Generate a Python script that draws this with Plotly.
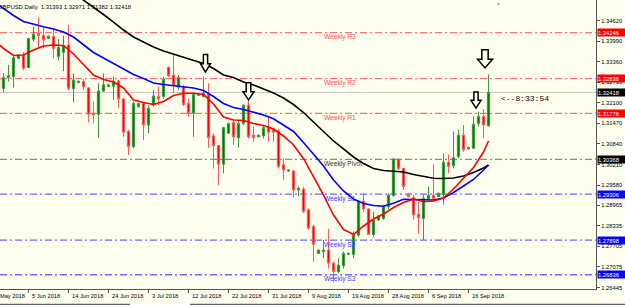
import plotly.graph_objects as go

# ---------------- data ----------------
bar_index = list(range(-1, 98))   # bar number; -1 = 29 May 2018, 97 = 20 Sep 2018

opens = [1.3317, 1.3254, 1.3287, 1.3290, 1.3346, 1.3356, 1.3318, 1.3405, 1.3423, 1.3416,
         1.3407, 1.3413, 1.3352, 1.3365, 1.3387, 1.3254, 1.3272, 1.3275, 1.3256, 1.3178,
         1.3175, 1.3246, 1.3260, 1.3261, 1.3277, 1.3222, 1.3122, 1.3076, 1.3198, 1.3208,
         1.3142, 1.3203, 1.3229, 1.3229, 1.3318, 1.3295, 1.3258, 1.3259, 1.3208, 1.3178,
         1.3233, 1.3229, 1.3236, 1.3109, 1.3079, 1.3022, 1.3117, 1.3150, 1.3103, 1.3147,
         1.3203, 1.3111, 1.3106, 1.3109, 1.3137, 1.3130, 1.3124, 1.3020, 1.3001, 1.3001,
         1.2943, 1.2946, 1.2882, 1.2831, 1.2749, 1.2754, 1.2759, 1.2719, 1.2693, 1.2711,
         1.2746, 1.2746, 1.2805, 1.2909, 1.2885, 1.2807, 1.2851, 1.2856, 1.2892, 1.2926,
         1.3038, 1.3009, 1.2930, 1.2920, 1.2869, 1.2856, 1.2916, 1.2927, 1.2923, 1.2930,
         1.3028, 1.3017, 1.3045, 1.3111, 1.3069, 1.3071, 1.3147, 1.3168, 1.31393]
highs = [1.3322, 1.3300, 1.3326, 1.3356, 1.3358, 1.3365, 1.3409, 1.3443, 1.3471, 1.3443,
         1.3416, 1.3433, 1.3405, 1.3416, 1.3448, 1.3300, 1.3278, 1.3282, 1.3258, 1.3214,
         1.3270, 1.3300, 1.3268, 1.3290, 1.3280, 1.3224, 1.3127, 1.3213, 1.3210, 1.3213,
         1.3203, 1.3249, 1.3259, 1.3290, 1.3321, 1.3358, 1.3295, 1.3265, 1.3224, 1.3239,
         1.3238, 1.3290, 1.3270, 1.3116, 1.3081, 1.3137, 1.3149, 1.3157, 1.3157, 1.3205,
         1.3239, 1.3137, 1.3113, 1.3142, 1.3168, 1.3134, 1.3130, 1.3040, 1.3006, 1.3004,
         1.2953, 1.2953, 1.2887, 1.2836, 1.2761, 1.2790, 1.2824, 1.2724, 1.2734, 1.2754,
         1.2751, 1.2816, 1.2912, 1.2933, 1.2887, 1.2877, 1.2866, 1.2897, 1.2933, 1.3040,
         1.3040, 1.3011, 1.2933, 1.2928, 1.2907, 1.2928, 1.2953, 1.3022, 1.2935, 1.3055,
         1.3052, 1.3122, 1.3127, 1.3142, 1.3075, 1.3168, 1.3183, 1.3191, 1.32971]
lows = [1.3206, 1.3242, 1.3275, 1.3256, 1.3345, 1.3310, 1.3316, 1.3397, 1.3377, 1.3377,
        1.3405, 1.3346, 1.3340, 1.3307, 1.3249, 1.3211, 1.3270, 1.3250, 1.3150, 1.3147,
        1.3103, 1.3244, 1.3258, 1.3219, 1.3193, 1.3106, 1.3050, 1.3071, 1.3196, 1.3096,
        1.3117, 1.3198, 1.3203, 1.3222, 1.3290, 1.3240, 1.3250, 1.3200, 1.3168, 1.3106,
        1.3231, 1.3226, 1.3071, 1.3009, 1.2958, 1.2994, 1.3115, 1.3081, 1.3073, 1.3142,
        1.3101, 1.3091, 1.3104, 1.3101, 1.3091, 1.3091, 1.3009, 1.2974, 1.2999, 1.2920,
        1.2923, 1.2872, 1.2821, 1.2724, 1.2747, 1.2734, 1.2703, 1.2662, 1.2688, 1.2703,
        1.2744, 1.2734, 1.2800, 1.2877, 1.2805, 1.2800, 1.2849, 1.2851, 1.2885, 1.2922,
        1.3004, 1.2943, 1.2920, 1.2851, 1.2810, 1.2790, 1.2912, 1.2915, 1.2921, 1.2899,
        1.2994, 1.3009, 1.3040, 1.3060, 1.3067, 1.3069, 1.3137, 1.3101, 1.31382]
closes = [1.3249, 1.3287, 1.3293, 1.3348, 1.3356, 1.3316, 1.3407, 1.3420, 1.3416, 1.3402,
          1.3414, 1.3377, 1.3379, 1.3385, 1.3254, 1.3280, 1.3276, 1.3259, 1.3175, 1.3173,
          1.3246, 1.3265, 1.3265, 1.3277, 1.3222, 1.3120, 1.3076, 1.3208, 1.3208, 1.3142,
          1.3193, 1.3231, 1.3222, 1.3283, 1.3293, 1.3262, 1.3288, 1.3205, 1.3178, 1.3236,
          1.3236, 1.3239, 1.3103, 1.3079, 1.3022, 1.3134, 1.3147, 1.3106, 1.3147, 1.3203,
          1.3106, 1.3103, 1.3111, 1.3134, 1.3120, 1.3120, 1.3015, 1.3004, 1.3004, 1.2943,
          1.2948, 1.2877, 1.2826, 1.2777, 1.2759, 1.2759, 1.2719, 1.2693, 1.2713, 1.2749,
          1.2749, 1.2805, 1.2909, 1.2885, 1.2807, 1.2851, 1.2864, 1.2892, 1.2928, 1.3038,
          1.3009, 1.2953, 1.2923, 1.2867, 1.2858, 1.2918, 1.2927, 1.2917, 1.2933, 1.3028,
          1.3015, 1.3042, 1.3111, 1.3066, 1.3073, 1.3144, 1.3168, 1.3142, 1.32418]

ma_black_idx = [14, 16, 18, 20, 22, 24, 26, 28, 30, 32, 34, 36, 38, 40, 42, 44, 46, 48, 50, 52,
                54, 56, 58, 60, 62, 64, 66, 68, 70, 72, 74, 76, 78, 80, 82, 84, 86, 88, 90, 92,
                94, 96, 97]
ma_black = [1.35462, 1.35248, 1.35034, 1.34804, 1.34574, 1.34329, 1.34115, 1.33962, 1.33809,
            1.33687, 1.33595, 1.33503, 1.33411, 1.33304, 1.33151, 1.32952, 1.32875, 1.32737,
            1.32645, 1.32523, 1.32400, 1.32247, 1.32048, 1.31803, 1.31513, 1.31206, 1.30931,
            1.30686, 1.30441, 1.30242, 1.30089, 1.30028, 1.29997, 1.29982, 1.29905, 1.29844,
            1.29789, 1.29783, 1.29798, 1.29859, 1.29966, 1.30104, 1.30196]

ma_fast_idx = [-1, 0, 2, 4, 6, 8, 10, 12, 14, 16, 18, 20, 22, 24, 26, 28, 30, 32, 34, 36, 38,
               40, 42, 44, 46, 48, 50, 52, 54, 56, 58, 60, 62, 64, 66, 68, 70, 72, 74, 76, 78,
               80, 82, 84, 86, 88, 90, 92, 94, 96, 97]
ma_blue = [1.35095, 1.34988, 1.34773, 1.34590, 1.34498, 1.34430, 1.34360, 1.34268, 1.34115,
           1.33870, 1.33641, 1.33472, 1.33304, 1.33151, 1.32967, 1.32845, 1.32707, 1.32661,
           1.32630, 1.32600, 1.32554, 1.32477, 1.32293, 1.32079, 1.31957, 1.31895, 1.31819,
           1.31727, 1.31611, 1.31412, 1.31222, 1.30885, 1.30542, 1.30165, 1.29737, 1.29400,
           1.29155, 1.29017, 1.28956, 1.28932, 1.29023, 1.29149, 1.29140, 1.29124, 1.29124,
           1.29186, 1.29354, 1.29553, 1.29752, 1.30043, 1.30196]
ma_red = [1.33901, 1.33763, 1.33549, 1.33564, 1.33717, 1.33840, 1.33870, 1.33855, 1.33595,
          1.33288, 1.32952, 1.32814, 1.32737, 1.32554, 1.32186, 1.32110, 1.32048, 1.32140,
          1.32324, 1.32391, 1.32391, 1.32355, 1.32064, 1.31666, 1.31574, 1.31559, 1.31467,
          1.31406, 1.31298, 1.31084, 1.30808, 1.30395, 1.29859, 1.29277, 1.28665, 1.28221,
          1.28068, 1.28328, 1.28543, 1.28695, 1.28894, 1.29048, 1.29155, 1.29072, 1.29094,
          1.29186, 1.29461, 1.29783, 1.30120, 1.30594, 1.30931]

# weekly pivot levels
level_values = [1.34246, 1.32838, 1.31776, 1.30368, 1.29306, 1.27898, 1.26836]
level_names = ["Weekly R3", "Weekly R2", "Weekly R1", "Weekly Pivot", "Weekly S1", "Weekly S2", "Weekly S3"]
current_price = 1.32418
timer_text = "<--8:33:54"
header_text = "GBPUSD,Daily  1.31393 1.32971 1.31382 1.32418"

# axis ticks
y_tick_vals = [1.34620, 1.33990, 1.33360, 1.32730, 1.32100, 1.31470, 1.30840, 1.30210,
               1.29580, 1.28965, 1.28335, 1.27705, 1.27075, 1.26445]
date_tick_idx = [-3, 5, 13, 21, 29, 37, 45, 53, 61, 69, 77, 85, 93]
date_tick_text = ["27 May 2018", "5 Jun 2018", "14 Jun 2018", "24 Jun 2018", "3 Jul 2018",
                  "12 Jul 2018", "22 Jul 2018", "31 Jul 2018", "9 Aug 2018", "19 Aug 2018",
                  "28 Aug 2018", "6 Sep 2018", "16 Sep 2018"]

# drawn arrow objects: (bar, price of tip)
arrow_bars = [40.4, 49.0, 94.5, 96.3]
arrow_tips = [1.3304, 1.3219, 1.3194, 1.3317]

# ---------------- styling ----------------
BG = "#FFFFF0"
FONT = "Liberation Sans, Arial, sans-serif"
X_MIN, X_MAX = -0.7, 118.5
PX_PER_BAR = 596 / (X_MAX - X_MIN)
level_line_colors = ["#FF7070"] * 3 + ["#8C8C8C"] + ["#6A6AFF"] * 3
level_text_colors = ["#FF5050"] * 3 + ["#333333"] + ["#3C3CFF"] * 3
arrow_sizes = [(10, 17.5), (11, 17), (10, 16), (15, 18)]

fig = go.Figure()

fig.add_trace(go.Candlestick(
    x=bar_index, open=opens, high=highs, low=lows, close=closes,
    increasing=dict(line=dict(color="#3C9A3C", width=1), fillcolor="#007A00"),
    decreasing=dict(line=dict(color="#FF5A5A", width=1), fillcolor="#FF0000"),
    whiskerwidth=0, hoverinfo="skip", showlegend=False))

fig.add_trace(go.Scatter(x=ma_black_idx, y=ma_black, mode="lines",
                         line=dict(color="#000000", width=1.6), hoverinfo="skip", showlegend=False))
fig.add_trace(go.Scatter(x=ma_fast_idx, y=ma_blue, mode="lines",
                         line=dict(color="#0000FF", width=1.6), hoverinfo="skip", showlegend=False))
fig.add_trace(go.Scatter(x=ma_fast_idx, y=ma_red, mode="lines",
                         line=dict(color="#FF0000", width=1.6), hoverinfo="skip", showlegend=False))

shapes = []
annotations = []

# current price line
shapes.append(dict(type="line", xref="paper", x0=0, x1=1, yref="y", y0=current_price, y1=current_price,
                   line=dict(color="#C4C4C4", width=1), layer="below"))

for val, name, lc, tc in zip(level_values, level_names, level_line_colors, level_text_colors):
    shapes.append(dict(type="line", xref="paper", x0=0, x1=1, yref="y", y0=val, y1=val,
                       line=dict(color=lc, width=1.3, dash="7px,3px,2px,3px"), layer="below"))
    annotations.append(dict(xref="paper", x=322.5 / 596, xanchor="left", yref="y", y=val,
                            yanchor="middle", yshift=-4.5, text=name, showarrow=False,
                            font=dict(family=FONT, size=6.6, color=tc), borderpad=0))

# price boxes on the right axis
box_values = [level_values[0], level_values[1], current_price, level_values[2], level_values[3],
              level_values[4], level_values[5], level_values[6]]
box_colors = ["#FF0000", "#FF0000", "#000000", "#FF0000", "#000000", "#0000FF", "#0000FF", "#0000FF"]
for v, c in zip(box_values, box_colors):
    annotations.append(dict(xref="paper", x=1, xanchor="left", xshift=1, yref="y", y=v,
                            yanchor="middle", text=f"{v:.5f}", showarrow=False, align="left",
                            width=28, height=7, bgcolor=c, borderpad=0,
                            font=dict(family=FONT, size=5.8, color="#FFFFFF")))

# date labels (a label whose tick lies left of the visible range is pinned to the edge and shifted)
for idx, txt in zip(date_tick_idx, date_tick_text):
    anchor = max(idx, X_MIN)
    shift = 2 + (idx - anchor) * PX_PER_BAR
    annotations.append(dict(xref="x", x=anchor, xanchor="left", xshift=shift, yref="paper", y=0,
                            yanchor="middle", yshift=-6.5, text=txt, showarrow=False,
                            font=dict(family=FONT, size=5.7, color="#000000"), borderpad=0))

# header
annotations.append(dict(xref="paper", x=0, xanchor="left", xshift=-3, yref="paper", y=1,
                        yanchor="middle", yshift=-7, text=header_text, showarrow=False,
                        font=dict(family=FONT, size=5.9, color="#000000"), borderpad=0))
# timer text
annotations.append(dict(xref="paper", x=500 / 596, xanchor="left", yref="y", y=current_price,
                        yanchor="middle", yshift=-6, text=timer_text, showarrow=False,
                        font=dict(family="Liberation Mono, monospace", size=8, color="#000000"),
                        borderpad=0))
# chart-shift marker
annotations.append(dict(xref="paper", x=498.5 / 596, xanchor="center", yref="paper", y=1,
                        yanchor="top", text="\u25BC", showarrow=False,
                        font=dict(family=FONT, size=5, color="#A8A8A8"), borderpad=0))

# hollow down arrows
for bx, tip, (w, h) in zip(arrow_bars, arrow_tips, arrow_sizes):
    hw = w / 2.0
    sw = 0.21 * w
    hh = 0.48 * h
    path = (f"M 0,0 L {-hw},{hh} L {-sw},{hh} L {-sw},{h} L {sw},{h} "
            f"L {sw},{hh} L {hw},{hh} Z")
    shapes.append(dict(type="path", xref="x", yref="y", xsizemode="pixel", ysizemode="pixel",
                       xanchor=bx, yanchor=tip, path=path, fillcolor=BG,
                       line=dict(color="#000000", width=1.5), layer="above"))

# bottom tab bar line
shapes.append(dict(type="line", xref="paper", yref="paper", x0=-0.01, x1=130 / 596,
                   y0=-15.3 / 289, y1=-15.3 / 289, line=dict(color="#3A3A3A", width=1)))
shapes.append(dict(type="line", xref="paper", yref="paper", x0=190 / 596, x1=1.06,
                   y0=-15.3 / 289, y1=-15.3 / 289, line=dict(color="#3A3A3A", width=1)))

fig.update_layout(
    width=625, height=305,
    margin=dict(l=0, r=29, t=0, b=16, pad=0),
    paper_bgcolor=BG, plot_bgcolor=BG,
    showlegend=False, hovermode=False,
    boxgap=0.35,
    shapes=shapes, annotations=annotations,
    xaxis=dict(type="linear", range=[X_MIN, X_MAX], showgrid=False, zeroline=False,
               showline=True, linecolor="#555555", linewidth=1,
               ticks="outside", ticklen=3, tickcolor="#555555", tickwidth=1,
               tickvals=date_tick_idx, showticklabels=False,
               rangeslider=dict(visible=False), fixedrange=True),
    yaxis=dict(side="right", range=[1.26399, 1.35248], showgrid=False, zeroline=False,
               showline=True, linecolor="#555555", linewidth=1,
               ticks="outside", ticklen=3, tickcolor="#555555", tickwidth=1,
               tickvals=y_tick_vals, ticktext=[f"{v:.5f}" for v in y_tick_vals],
               tickfont=dict(family=FONT, size=5.8, color="#000000"), fixedrange=True),
)

fig.write_html("out.html")
